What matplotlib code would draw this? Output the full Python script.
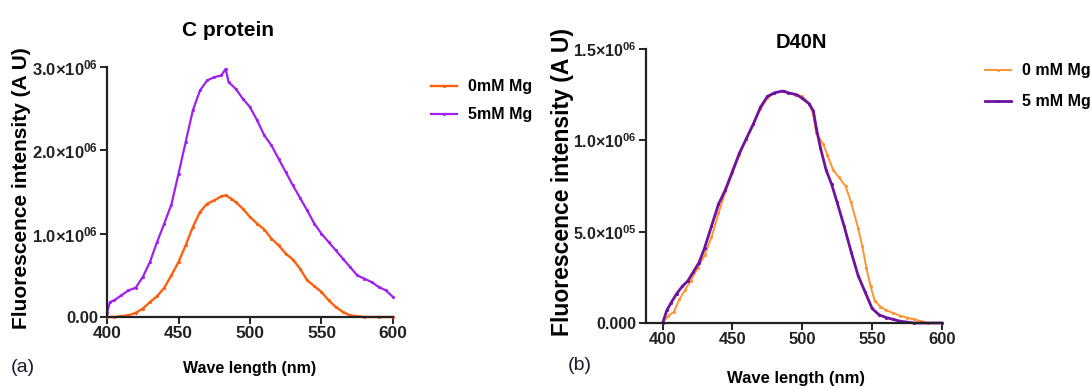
import matplotlib
matplotlib.use('Agg')
import matplotlib.pyplot as plt
from matplotlib.ticker import FixedLocator

plt.rcParams['font.family'] = ['Liberation Sans', 'DejaVu Sans']
plt.rcParams['mathtext.fontset'] = 'custom'
plt.rcParams['mathtext.rm'] = 'Liberation Sans:bold'
plt.rcParams['mathtext.default'] = 'rm'

# --- (a) C protein ---
C_WL_0 = [400, 405, 410, 415, 420, 425, 430, 435, 440, 445, 450, 455, 460, 465, 470, 475,
          480, 483, 487, 490, 495, 500, 505, 510, 515, 520, 525, 530, 535, 540, 545, 550,
          555, 560, 565, 570, 575, 580, 590, 600]
C_MG0 = [0.0, 0.0, 0.01, 0.02, 0.05, 0.1, 0.18, 0.25, 0.35, 0.5, 0.66, 0.86, 1.08, 1.26, 1.36, 1.4,
         1.45, 1.46, 1.42, 1.38, 1.3, 1.2, 1.12, 1.05, 0.94, 0.86, 0.76, 0.69, 0.58, 0.44, 0.37, 0.3,
         0.2, 0.12, 0.06, 0.02, 0.01, 0.0, 0.0, 0.0]
C_WL_5 = [400, 402, 405, 410, 415, 420, 425, 430, 435, 440, 445, 450, 455, 460, 465, 470, 475,
          480, 483, 485, 490, 495, 500, 505, 510, 515, 520, 525, 530, 535, 540, 545, 550, 555,
          560, 565, 570, 575, 580, 585, 590, 595, 600]
C_MG5 = [0.05, 0.18, 0.2, 0.26, 0.32, 0.35, 0.48, 0.66, 0.9, 1.12, 1.35, 1.72, 2.1, 2.48, 2.72, 2.84, 2.88,
         2.9, 2.98, 2.82, 2.74, 2.62, 2.52, 2.36, 2.18, 2.06, 1.9, 1.74, 1.58, 1.43, 1.28, 1.12, 1.0, 0.9,
         0.8, 0.7, 0.6, 0.5, 0.46, 0.42, 0.36, 0.32, 0.24]

# --- (b) D40N ---
D_WL_0 = [400, 404, 408, 412, 416, 420, 425, 430, 435, 440, 445, 450, 455, 460, 465, 470, 475,
          480, 487, 495, 500, 505, 508, 510, 515, 518, 522, 526, 531, 535, 540, 543, 546, 549,
          552, 556, 560, 565, 570, 575, 580, 585, 590, 600]
D_MG0 = [0.0, 0.04, 0.06, 0.13, 0.18, 0.23, 0.3, 0.37, 0.47, 0.6, 0.72, 0.82, 0.92, 1.01, 1.09, 1.17, 1.23,
         1.26, 1.27, 1.25, 1.24, 1.2, 1.14, 1.04, 0.98, 0.92, 0.84, 0.8, 0.75, 0.66, 0.52, 0.42, 0.3, 0.2,
         0.12, 0.09, 0.07, 0.055, 0.04, 0.03, 0.02, 0.01, 0.0, 0.0]
D_WL_5 = [400, 403, 406, 410, 414, 418, 422, 426, 430, 435, 440, 445, 450, 455, 460, 465, 470, 475,
          480, 486, 490, 496, 500, 505, 508, 510, 513, 517, 521, 525, 530, 535, 540, 545, 550,
          555, 560, 565, 570, 580, 600]
D_MG5 = [0.0, 0.07, 0.11, 0.16, 0.2, 0.23, 0.28, 0.33, 0.41, 0.53, 0.65, 0.73, 0.83, 0.93, 1.01, 1.09, 1.18, 1.24,
         1.26, 1.27, 1.26, 1.25, 1.23, 1.2, 1.16, 1.07, 0.96, 0.84, 0.76, 0.66, 0.53, 0.39, 0.26, 0.17, 0.08,
         0.045, 0.03, 0.02, 0.01, 0.0, 0.0]

C_YTICKS = [0, 1e6, 2e6, 3e6]
C_YLABELS = ['0.00', '1.0×10$^{06}$', '2.0×10$^{06}$', '3.0×10$^{06}$']
D_YTICKS = [0, 5e5, 1e6, 1.5e6]
D_YLABELS = ['0.000', '5.0×10$^{05}$', '1.0×10$^{06}$', '1.5×10$^{06}$']
XTICKS = [400, 450, 500, 550, 600]

fig = plt.figure(figsize=(10.91, 3.88), dpi=100)
axa = fig.add_axes([0.0981, 0.183, 0.2621, 0.644])
axb = fig.add_axes([0.592, 0.1675, 0.2713, 0.7062])


def style(ax, xlim, yticks, ylabels, xsize, ysize):
    ax.set_xlim(*xlim)
    ax.set_ylim(0, yticks[-1])
    for s in ['top', 'right']:
        ax.spines[s].set_visible(False)
    for s in ['left', 'bottom']:
        ax.spines[s].set_linewidth(1.6)
        ax.spines[s].set_color('#222222')
    ax.xaxis.set_major_locator(FixedLocator(XTICKS))
    ax.set_xticklabels([str(t) for t in XTICKS])
    ax.set_yticks(yticks)
    ax.set_yticklabels(ylabels)
    ax.tick_params(width=1.4, length=5, colors='#222222', pad=1.5)
    ax.tick_params(axis='x', labelsize=xsize)
    ax.tick_params(axis='y', labelsize=ysize)
    for lab in ax.get_xticklabels() + ax.get_yticklabels():
        lab.set_fontweight('bold')
    ax.patch.set_visible(False)


axa.plot(C_WL_0, [v * 1e6 for v in C_MG0], color='#ff5f0f', lw=1.7, marker='.', ms=2.5,
         label='0mM Mg', clip_on=False)
axa.plot(C_WL_5, [v * 1e6 for v in C_MG5], color='#a020f0', lw=1.6, marker='.', ms=2.5,
         label='5mM Mg', clip_on=False)
style(axa, (400, 600), C_YTICKS, C_YLABELS, 12.5, 12)

axb.plot(D_WL_0, [v * 1e6 for v in D_MG0], color='#ff9430', lw=1.4, marker='.', ms=2.5,
         label='0 mM Mg', clip_on=False)
axb.plot(D_WL_5, [v * 1e6 for v in D_MG5], color='#6e12a0', lw=2.0, marker='.', ms=2.5,
         label='5 mM Mg', clip_on=False)
style(axb, (388, 600), D_YTICKS, D_YLABELS, 12, 11.5)

leg_kw = dict(frameon=False, handlelength=1.6, handletextpad=0.7,
              prop={'weight': 'bold', 'size': 11.5}, borderaxespad=0)
axa.legend(loc='upper left', bbox_to_anchor=(425 / 1091, 1 - 73 / 388),
           bbox_transform=fig.transFigure, labelspacing=0.8, **leg_kw)
axb.legend(loc='upper left', bbox_to_anchor=(979 / 1091, 1 - 57 / 388),
           bbox_transform=fig.transFigure, labelspacing=1.0, **leg_kw)

fig.text(228 / 1091, 1 - 30 / 388, 'C protein', ha='center', va='center', fontsize=15, fontweight='bold')
fig.text(801 / 1091, 1 - 43 / 388, 'D40N', ha='center', va='center', fontsize=14.5, fontweight='bold')

fig.text(250 / 1091, 1 - 368 / 388, 'Wave length (nm)', ha='center', va='center', fontsize=11.5, fontweight='bold')
fig.text(796 / 1091, 1 - 378 / 388, 'Wave length (nm)', ha='center', va='center', fontsize=12, fontweight='bold')

fig.text(22 / 1091, 1 - 188 / 388, 'Fluorescence intensity (A U)', ha='center', va='center',
         rotation=90, fontsize=15, fontweight='bold')
fig.text(562 / 1091, 1 - 182 / 388, 'Fluorescence intensity (A U)', ha='center', va='center',
         rotation=90, fontsize=16.5, fontweight='bold')

fig.text(23 / 1091, 1 - 368 / 388, '(a)', ha='center', va='center', fontsize=14, color='#1a1a2e')
fig.text(580 / 1091, 1 - 366 / 388, '(b)', ha='center', va='center', fontsize=14, color='#1a1a2e')

fig.savefig('out.png', dpi=100)
